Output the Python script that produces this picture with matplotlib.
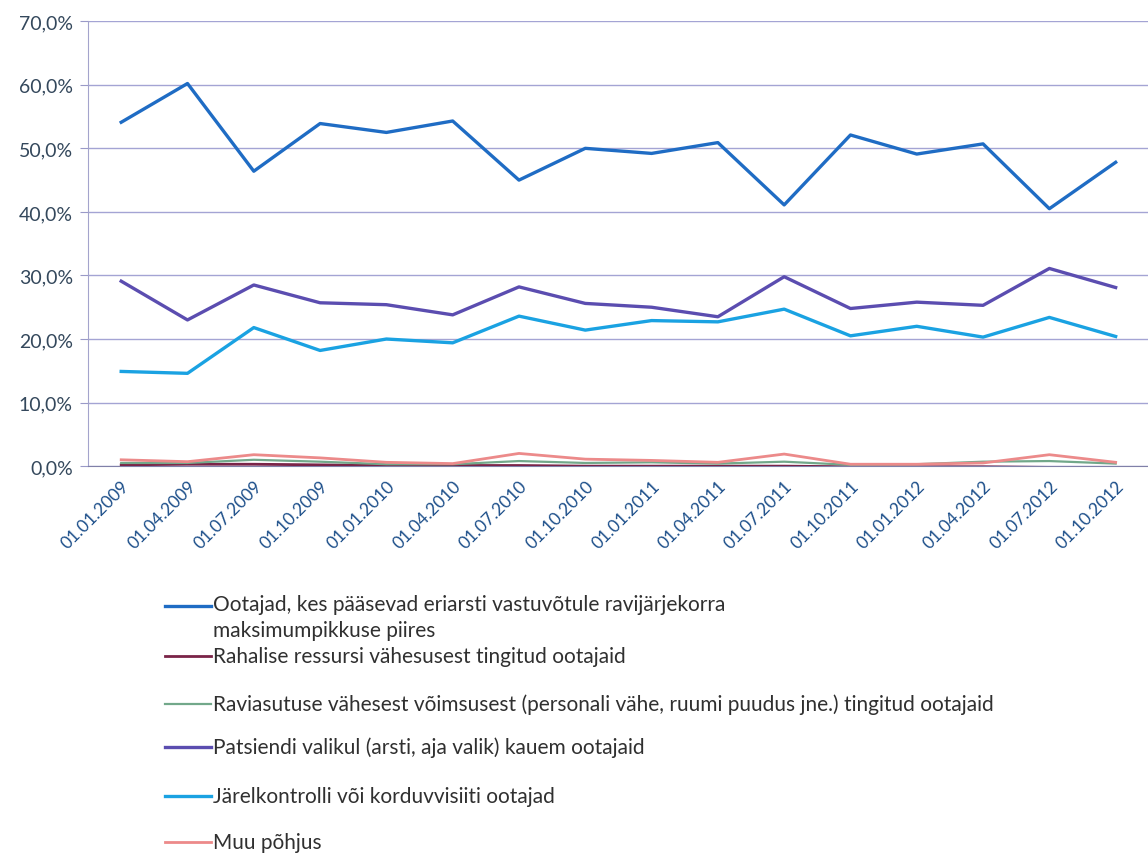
import numpy as np
import matplotlib
matplotlib.use("Agg")
import matplotlib.pyplot as plt
from matplotlib.lines import Line2D
from matplotlib.ticker import FuncFormatter

plt.rcParams['font.family'] = ['Lato', 'DejaVu Sans']

# andmed
dates = ["01.01.2009", "01.04.2009", "01.07.2009", "01.10.2009",
         "01.01.2010", "01.04.2010", "01.07.2010", "01.10.2010",
         "01.01.2011", "01.04.2011", "01.07.2011", "01.10.2011",
         "01.01.2012", "01.04.2012", "01.07.2012", "01.10.2012"]

ootajad = [54.1, 60.2, 46.4, 53.9, 52.5, 54.3, 45.0, 50.0,
           49.2, 50.9, 41.1, 52.1, 49.1, 50.7, 40.5, 47.8]
rahalise = [0.2, 0.3, 0.3, 0.2, 0.1, 0.1, 0.1, 0.0,
            0.0, 0.0, 0.0, -0.1, -0.1, -0.1, -0.2, -0.3]
raviasutuse = [0.5, 0.5, 1.0, 0.7, 0.3, 0.3, 0.8, 0.5,
               0.6, 0.4, 0.7, 0.2, 0.3, 0.7, 0.8, 0.4]
patsiendi = [29.1, 23.0, 28.5, 25.7, 25.4, 23.8, 28.2, 25.6,
             25.0, 23.5, 29.8, 24.8, 25.8, 25.3, 31.1, 28.1]
jarelkontroll = [14.9, 14.6, 21.8, 18.2, 20.0, 19.4, 23.6, 21.4,
                 22.9, 22.7, 24.7, 20.5, 22.0, 20.3, 23.4, 20.4]
muu = [1.0, 0.7, 1.8, 1.3, 0.6, 0.4, 2.0, 1.1,
       0.9, 0.6, 1.9, 0.3, 0.3, 0.5, 1.8, 0.6]

labels = ["Ootajad, kes pääsevad eriarsti vastuvõtule ravijärjekorra\nmaksimumpikkuse piires",
          "Rahalise ressursi vähesusest tingitud ootajaid",
          "Raviasutuse vähesest võimsusest (personali vähe, ruumi puudus jne.) tingitud ootajaid",
          "Patsiendi valikul (arsti, aja valik) kauem ootajaid",
          "Järelkontrolli või korduvvisiiti ootajad",
          "Muu põhjus"]
series = [ootajad, rahalise, raviasutuse, patsiendi, jarelkontroll, muu]
colors = ["#1f6cc4", "#7a2448", "#72a88a", "#5b4db0", "#1aa2e2", "#ec8a8a"]
widths = [2.4, 2.0, 1.6, 2.4, 2.4, 2.0]

fig = plt.figure(figsize=(11.48, 8.54), dpi=100)
ax = fig.add_axes([0.0767, 0.453, 0.924, 0.521])

x = np.arange(len(dates))
# väiksemad jooned alla
order = [2, 1, 5, 4, 3, 0]
for i in order:
    ax.plot(x, series[i], color=colors[i], linewidth=widths[i], zorder=3 + i * 0.1)

ax.set_xlim(-0.5, len(dates) - 0.5)
ax.set_ylim(0, 70)
ax.set_yticks(np.arange(0, 71, 10))
ax.yaxis.set_major_formatter(FuncFormatter(lambda v, p: f"{v:.1f}%".replace(".", ",")))
ax.set_xticks(x)
ax.set_xticklabels(dates, rotation=45, ha="right", rotation_mode="anchor")
ax.tick_params(axis="x", labelsize=12.5, length=0, pad=8)
ax.tick_params(axis="y", labelsize=14, colors="#34485c", length=6, pad=5, color="#9a9ac8")
for lab in ax.get_xticklabels():
    lab.set_color("#1d4f8a")

ax.grid(axis="y", color="#a4a4d4", linewidth=1.0)
ax.set_axisbelow(True)
for s in ["top", "right"]:
    ax.spines[s].set_visible(False)
ax.spines["left"].set_color("#a4a4cc")
ax.spines["bottom"].set_color("#8080a8")

# legend
W, H = 1148, 854
leg_y = [607, 657, 705, 748, 797, 843]
for i, lab in enumerate(labels):
    y = 1 - leg_y[i] / H
    fig.add_artist(Line2D([165 / W, 211 / W], [y, y], color=colors[i], linewidth=widths[i]))
    if "\n" in lab:
        fig.text(213 / W, y + 12 / H, lab, fontsize=15, color="#303030", va="top",
                 linespacing=1.35)
    else:
        fig.text(213 / W, y, lab, fontsize=15, color="#303030", va="center")

fig.savefig("out.png", dpi=100)
